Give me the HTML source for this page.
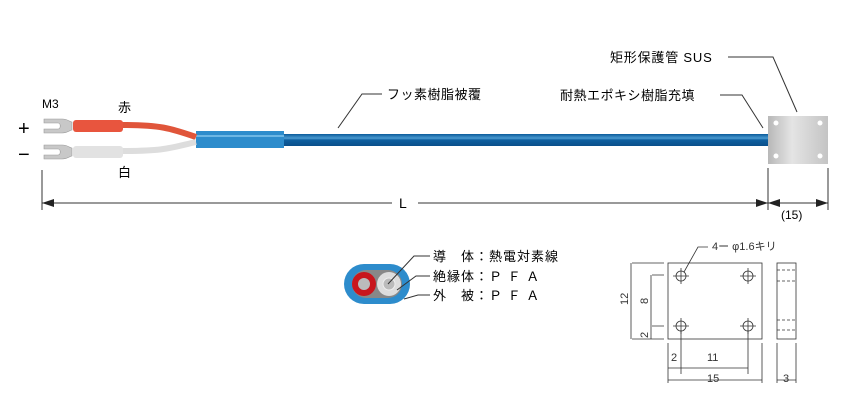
<!DOCTYPE html>
<html><head><meta charset="utf-8"><style>
body{margin:0;background:#fff;}
svg{display:block;font-family:"Liberation Sans","Noto Sans CJK JP",sans-serif;}
</style></head><body>
<svg width="843" height="410" viewBox="0 0 843 410">
<defs>
<linearGradient id="sus" x1="0" y1="0" x2="1" y2="0">
<stop offset="0" stop-color="#b8b8b8"/><stop offset="0.4" stop-color="#e4e4e4"/><stop offset="1" stop-color="#c4c4c4"/></linearGradient>
<linearGradient id="cab" x1="0" y1="0" x2="0" y2="1">
<stop offset="0" stop-color="#0a5a9a"/><stop offset="0.35" stop-color="#4a9ad0"/><stop offset="0.5" stop-color="#0e5f9f"/><stop offset="1" stop-color="#0a4f8a"/></linearGradient>
</defs>
<rect x="283" y="134" width="486" height="12" fill="url(#cab)"/>
<rect x="196" y="131" width="88" height="17" fill="#2d8ccc"/>
<rect x="196" y="135" width="88" height="2" fill="#6cb6e4"/>
<path d="M122,125 C160,125 170,128 196,137" stroke="#e0553a" stroke-width="6" fill="none"/>
<path d="M122,151 C165,151 170,148 196,142" stroke="#ddd" stroke-width="6" fill="none"/>
<rect x="73" y="120" width="50" height="12" rx="3" fill="#e8553e"/>
<rect x="73" y="146" width="50" height="12" rx="3" fill="#e2e2e2"/>
<path d="M44,119 h18 c6,0 8,3 10,3 v8 c-2,0 -4,3 -10,3 h-18 v-4 h14 c3,0 3,-6 0,-6 h-14z" fill="#c8c8c8" stroke="#999" stroke-width="0.6"/>
<path d="M44,145 h18 c6,0 8,3 10,3 v8 c-2,0 -4,3 -10,3 h-18 v-4 h14 c3,0 3,-6 0,-6 h-14z" fill="#c8c8c8" stroke="#999" stroke-width="0.6"/>
<text x="42" y="108" font-size="12">M3</text>
<text x="18" y="135" font-size="20">+</text>
<text x="18" y="161" font-size="20">−</text>
<text x="118" y="112" font-size="13">赤</text>
<text x="118" y="177" font-size="13">白</text>
<rect x="768" y="116" width="60" height="48" fill="url(#sus)"/>
<circle cx="776" cy="123" r="2.5" fill="#fff"/><circle cx="820" cy="123" r="2.5" fill="#fff"/>
<circle cx="776" cy="156" r="2.5" fill="#fff"/><circle cx="820" cy="156" r="2.5" fill="#fff"/>
<g stroke="#333" stroke-width="1" fill="none">
<polyline points="338,128 362,94 382,94"/>
<polyline points="763,128 742,95 720,95"/>
<polyline points="797,112 773,57 728,57"/>
<line x1="42" y1="170" x2="42" y2="210"/>
<line x1="768" y1="168" x2="768" y2="210"/>
<line x1="828" y1="168" x2="828" y2="210"/>
<line x1="42" y1="203" x2="392" y2="203"/>
<line x1="418" y1="203" x2="768" y2="203"/>
<line x1="768" y1="203" x2="828" y2="203"/>
</g>
<g fill="#222">
<path d="M42,203 l12,-4 v8z"/><path d="M768,203 l-12,-4 v8z"/>
<path d="M768,203 l12,-4 v8z"/><path d="M828,203 l-12,-4 v8z"/>
</g>
<text x="387" y="99" font-size="13" letter-spacing="0.5">フッ素樹脂被覆</text>
<text x="560" y="100" font-size="13" letter-spacing="0.5">耐熱エポキシ樹脂充填</text>
<text x="610" y="62" font-size="13" letter-spacing="0.8">矩形保護管 SUS</text>
<text x="399" y="208" font-size="14">L</text>
<text x="781" y="219" font-size="12">(15)</text>
<rect x="344" y="264" width="66" height="40" rx="20" fill="#2d8ccc"/>
<rect x="352" y="270" width="50" height="28" rx="14" fill="#888"/>
<circle cx="364" cy="284" r="12" fill="#c8161d"/><circle cx="364" cy="284" r="6" fill="#bbb"/>
<circle cx="389" cy="284" r="12" fill="#ddd"/><circle cx="389" cy="284" r="6" fill="#bbb" stroke="#eee"/>
<g stroke="#333" stroke-width="1" fill="none">
<polyline points="388,284 414,256 430,256"/>
<polyline points="397,290 416,276 430,276"/>
<polyline points="404,299 418,295 430,295"/>
</g>
<g font-size="13" letter-spacing="1">
<text x="433" y="261">導　体：熱電対素線</text>
<text x="433" y="281">絶縁体：Ｐ Ｆ Ａ</text>
<text x="433" y="300">外　被：Ｐ Ｆ Ａ</text>
</g>
<g stroke="#333" stroke-width="0.8" fill="none">
<rect x="668" y="263" width="94" height="76"/>
<rect x="777" y="263" width="19" height="76"/>
<circle cx="681" cy="276" r="5"/><circle cx="748" cy="276" r="5"/>
<circle cx="681" cy="326" r="5"/><circle cx="748" cy="326" r="5"/>
<path d="M673,276h16M681,268v16M740,276h16M748,268v16M673,326h16M681,318v16M740,326h16M748,318v16"/>
<path d="M777,270h19M777,281h19M777,320h19M777,330h19" stroke-dasharray="3,2"/>
<polyline points="684,272 698,247 708,247"/>
<path d="M632,263h32M652,275h12M652,326h12M632,339h32M631,263v76M651,275v64"/>
<path d="M668,343v40M681,330v44M748,330v44M762,343v40M777,343v40M796,343v40"/>
<path d="M668,368h80M668,380h94M777,380h19"/>
</g>
<g font-size="11" fill="#333">
<text x="712" y="250">4ー φ1.6キリ</text>
<text x="628" y="305" transform="rotate(-90 628 305)">12</text>
<text x="648" y="304" transform="rotate(-90 648 304)">8</text>
<text x="648" y="338" transform="rotate(-90 648 338)">2</text>
<text x="671" y="361">2</text>
<text x="707" y="361">11</text>
<text x="707" y="382">15</text>
<text x="783" y="382">3</text>
</g>
</svg>
</body></html>
